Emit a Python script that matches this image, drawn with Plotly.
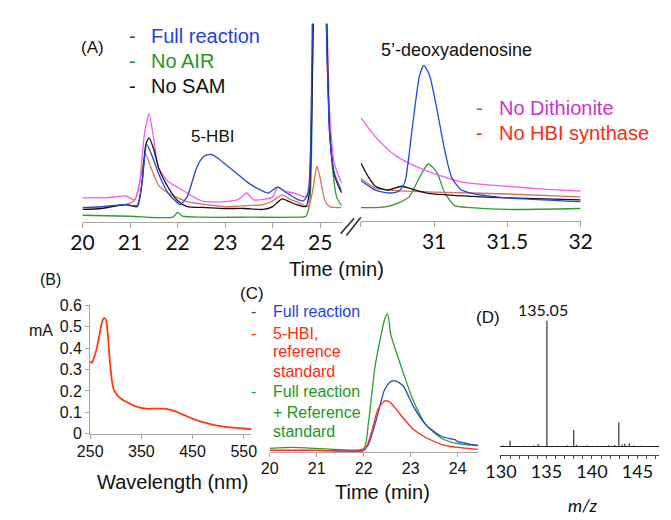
import plotly.graph_objects as go

W, H = 671, 520
def X(px): return px / W
def Y(py): return 1 - py / H

# ---------------- Panel A (left segment, 20-25.45 min) ----------------
a_full_t = [20, 20.4, 20.9, 21.15, 21.25, 21.35, 21.45, 21.6, 21.8, 21.95, 22.05, 22.2, 22.4, 22.55, 22.7, 22.85, 23.0, 23.25, 23.5, 23.75, 23.9, 24.1, 24.3, 24.5, 24.65, 24.75, 24.82, 24.9, 25.0, 25.1, 25.2, 25.3, 25.45]
a_full_y = [15, 16, 18, 17, 40, 80, 70, 50, 30, 22, 18, 26, 56, 68, 70, 66, 60, 50, 40, 33, 30, 36, 30, 24, 22, 30, 150, 400, 420, 260, 90, 50, 32]
a_noair_t = [20, 21.0, 21.9, 22.0, 22.1, 22.5, 23.5, 24.5, 24.7, 24.78, 24.85, 24.95, 25.05, 25.15, 25.25, 25.35, 25.45]
a_noair_y = [7, 6, 5, 10, 6, 5, 5, 5, 6, 20, 200, 420, 380, 160, 60, 25, 17]
a_nosam_t = [20, 20.4, 20.9, 21.15, 21.25, 21.33, 21.4, 21.5, 21.6, 21.8, 22.0, 22.2, 22.6, 23.0, 23.4, 23.8, 24.0, 24.2, 24.35, 24.5, 24.7, 24.77, 24.85, 24.95, 25.1, 25.2, 25.3, 25.45]
a_nosam_y = [13, 14, 18, 16, 40, 80, 87, 75, 56, 36, 22, 16, 15, 14, 14, 13, 16, 24, 21, 18, 16, 30, 200, 430, 280, 90, 48, 30]
a_nodith_t = [20, 20.5, 20.9, 21.1, 21.2, 21.3, 21.4, 21.5, 21.6, 21.8, 22.0, 22.5, 23.0, 23.3, 23.45, 23.6, 24.0, 24.1, 24.25, 24.45, 24.7, 24.77, 24.85, 24.95, 25.1, 25.2, 25.3, 25.45]
a_nodith_y = [25, 25, 27, 23, 40, 90, 112, 85, 56, 42, 36, 22, 21, 24, 30, 23, 26, 36, 32, 30, 26, 45, 220, 440, 300, 110, 60, 40]
a_nohbi_t = [20, 20.5, 20.9, 21.1, 21.2, 21.33, 21.45, 21.6, 21.8, 22.2, 22.6, 23.0, 23.5, 23.8, 24.0, 24.2, 24.35, 24.5, 24.75, 24.85, 24.93, 25.0, 25.1, 25.2, 25.45]
a_nohbi_y = [15, 16, 18, 23, 40, 70, 55, 38, 30, 21, 18, 16, 17, 18, 22, 28, 24, 21, 16, 35, 58, 45, 22, 16, 15]

# ---------------- Panel A (right segment, 30.5-32 min) ----------------
b_full_t = [30.5, 30.6, 30.7, 30.76, 30.8, 30.85, 30.9, 30.93, 30.97, 31.02, 31.07, 31.12, 31.18, 31.25, 31.5, 32.0]
b_full_y = [42, 32, 29, 31, 40, 95, 150, 161, 150, 115, 75, 45, 33, 29, 24, 20]
b_noair_t = [30.5, 30.6, 30.68, 30.76, 30.83, 30.9, 30.96, 31.02, 31.07, 31.14, 31.25, 31.5, 32.0]
b_noair_y = [14, 14, 15, 19, 25, 45, 59, 50, 30, 16, 14, 12, 13]
b_nosam_t = [30.5, 30.55, 30.6, 30.68, 30.78, 30.85, 30.95, 31.2, 31.5, 32.0]
b_nosam_y = [60, 46, 36, 32, 36, 33, 29, 26, 24, 22]
b_nodith_t = [30.5, 30.6, 30.7, 30.8, 30.9, 31.0, 31.2, 31.5, 31.75, 32.0]
b_nodith_y = [107, 87, 72, 62, 55, 49, 40, 36, 33, 31]
b_nohbi_t = [30.5, 30.6, 30.7, 30.8, 31.0, 31.5, 32.0]
b_nohbi_y = [44, 34, 32, 31, 30, 28, 25]

# ---------------- Panel B (UV-vis spectrum) ----------------
uv_wl = [250, 252, 255, 258, 263, 268, 272, 275, 278, 281, 283, 285, 287, 290, 293, 297, 303, 310, 318, 325, 335, 345, 355, 365, 375, 385, 395, 405, 415, 425, 435, 445, 455, 465, 475, 485, 495, 505, 515, 525, 535, 545, 555, 565]
uv_abs = [0.34, 0.33, 0.34, 0.36, 0.40, 0.46, 0.51, 0.535, 0.54, 0.53, 0.50, 0.45, 0.38, 0.30, 0.24, 0.20, 0.18, 0.165, 0.152, 0.145, 0.132, 0.124, 0.119, 0.117, 0.118, 0.118, 0.118, 0.113, 0.106, 0.096, 0.086, 0.076, 0.066, 0.058, 0.051, 0.045, 0.040, 0.036, 0.032, 0.030, 0.028, 0.026, 0.024, 0.022]
uv_xticks = [250, 350, 450, 550]
uv_yticks = [0, 0.1, 0.2, 0.3, 0.4, 0.5, 0.6]
uv_yticktext = ["0", "0.1", "0.2", "0.3", "0.4", "0.5", "0.6"]

# ---------------- Panel C (co-injection) ----------------
c_full_t = [20, 21, 22.0, 22.1, 22.27, 22.44, 22.55, 22.65, 22.75, 22.85, 23.05, 23.33, 23.67, 23.94, 24.0, 24.2, 24.43]
c_full_y = [2, 2, 2, 8, 34, 64, 72, 74, 72, 68, 48, 28, 16, 13, 11, 9, 7]
c_ref_t = [20, 21, 22.0, 22.08, 22.17, 22.3, 22.44, 22.5, 22.58, 22.78, 23.05, 23.33, 23.67, 24.0, 24.43]
c_ref_y = [2, 2, 2, 8, 21, 44, 53, 53, 51, 39, 24, 15, 8, 5, 3]
c_mix_t = [20, 20.5, 21, 22.0, 22.1, 22.24, 22.37, 22.45, 22.51, 22.58, 22.78, 23.05, 23.33, 23.67, 24.0, 24.43]
c_mix_y = [4, 5, 4, 4, 30, 88, 121, 138, 143, 121, 91, 54, 28, 14, 9, 7]
c_xticks = [20, 21, 22, 23, 24]

# ---------------- Panel D (mass spectrum) ----------------
ms_mz = [130.2, 131.0, 132.5, 133.6, 134.1, 135.05, 136.2, 137.3, 138.0, 138.3, 139.5, 140.6, 141.8, 142.5, 142.95, 143.3, 143.6, 144.1, 144.6, 145.5]
ms_int = [0.8, 4.5, 0.6, 0.7, 1.8, 100, 0.6, 0.8, 13, 1.2, 0.7, 0.6, 1.0, 1.2, 19, 1.5, 2.2, 2.5, 0.8, 0.6]
ms_ticks = list(range(130, 148))
ms_ticktext = [str(v) if v in (130, 135, 140, 145) else "" for v in ms_ticks]

BLUE = "#2347E0"; GREEN = "#2E9B2E"; BLACK = "#111111"; PINK = "#F25CF2"; SALMON = "#D9705C"
BLUE_T = "#1F3FE8"; GREEN_T = "#1E961E"; MAG_T = "#CC33CC"; RED_T = "#FF2A10"

fig = go.Figure()
def line(x, y, color, xa, ya, w=1.3, shape="spline"):
    fig.add_trace(go.Scatter(x=x, y=y, mode="lines", line=dict(color=color, width=w, shape=shape, smoothing=0.6),
                             xaxis=xa, yaxis=ya, showlegend=False, hoverinfo="skip"))

for (t, y, c) in [(a_noair_t, a_noair_y, GREEN), (a_nohbi_t, a_nohbi_y, SALMON), (a_nodith_t, a_nodith_y, PINK),
                  (a_nosam_t, a_nosam_y, BLACK), (a_full_t, a_full_y, BLUE)]:
    line(t, y, c, "x", "y")
for (t, y, c) in [(b_noair_t, b_noair_y, GREEN), (b_nohbi_t, b_nohbi_y, SALMON), (b_nodith_t, b_nodith_y, PINK),
                  (b_nosam_t, b_nosam_y, BLACK), (b_full_t, b_full_y, BLUE)]:
    line(t, y, c, "x2", "y2")
line(uv_wl, uv_abs, "#FF3A10", "x3", "y3", 1.8)
line(c_mix_t, c_mix_y, GREEN, "x4", "y4", 1.3)
line(c_full_t, c_full_y, BLUE, "x4", "y4", 1.3)
line(c_ref_t, c_ref_y, "#FF2A20", "x4", "y4", 1.3)

# stick spectrum
sx, sy = [], []
for m, h in zip(ms_mz, ms_int):
    sx += [m, m, None]; sy += [0, h, None]
fig.add_trace(go.Scatter(x=sx, y=sy, mode="lines", line=dict(color="#333333", width=1.2),
                         xaxis="x5", yaxis="y5", showlegend=False, hoverinfo="skip"))

AX = "#A6A6A6"
calib = dict(family="Lato, Liberation Sans, sans-serif", color="#111111")
arial = dict(family="Liberation Sans, Arial, sans-serif", color="#111111")

fig.update_layout(
    width=W, height=H, margin=dict(l=0, r=0, t=0, b=0),
    paper_bgcolor="white", plot_bgcolor="rgba(0,0,0,0)",
    xaxis=dict(domain=[X(62), X(332)], range=[20, 25.45], anchor="y", tickvals=[20, 21, 22, 23, 24, 25],
               showline=True, linecolor=AX, ticks="outside", ticklen=5, tickcolor=AX, showgrid=False,
               zeroline=False, tickfont=dict(size=21, **calib), ticklabelstandoff=-3),
    yaxis=dict(domain=[Y(213), Y(8)], range=[0, 205], visible=False),
    xaxis2=dict(domain=[X(352), X(581)], range=[30.5, 32], anchor="y2", tickvals=[30.5, 31, 31.5, 32],
                ticktext=["", "31", "31.5", "32"], showline=True, linecolor=AX, ticks="outside", ticklen=5,
                tickcolor=AX, showgrid=False, zeroline=False, tickfont=dict(size=21, **calib), ticklabelstandoff=-3),
    yaxis2=dict(domain=[Y(212), Y(8)], range=[0, 204], visible=False),
    xaxis3=dict(domain=[X(70), X(238)], range=[250, 565], anchor="y3", tickvals=uv_xticks,
                showline=True, linecolor=AX, ticks="outside", ticklen=4, tickcolor=AX, showgrid=False,
                zeroline=False, tickfont=dict(size=16, **arial), ticklabelstandoff=-1),
    yaxis3=dict(domain=[Y(432), Y(299)], range=[0, 0.6], anchor="x3", tickvals=uv_yticks, ticktext=uv_yticktext,
                showline=True, linecolor=AX, ticks="outside", ticklen=4, tickcolor=AX, showgrid=False,
                zeroline=False, tickfont=dict(size=16, **arial)),
    xaxis4=dict(domain=[X(257), X(474)], range=[20, 24.43], anchor="y4", tickvals=c_xticks,
                showline=True, linecolor=AX, ticks="outside", ticklen=4, tickcolor=AX, showgrid=False,
                zeroline=False, tickfont=dict(size=16, **arial), ticklabelstandoff=-2),
    yaxis4=dict(domain=[Y(451), Y(300)], range=[0, 151], visible=False),
    xaxis5=dict(domain=[X(497), X(663)], range=[129.9, 147.4], anchor="y5", showline=True, linecolor="#222222",
                showticklabels=False, ticks="", showgrid=False, zeroline=False),
    yaxis5=dict(domain=[Y(445), Y(300)], range=[0, 111.5], visible=False),
    xaxis6=dict(overlaying="x5", anchor="free", position=Y(454), range=[129.9, 147.4], showline=True,
                linecolor="#444444", ticks="outside", ticklen=3, tickcolor="#444444", tickvals=ms_ticks,
                ticktext=ms_ticktext, showgrid=False, zeroline=False, tickfont=dict(size=18, **calib),
                ticklabelstandoff=-3),
)
fig.add_trace(go.Scatter(x=[130], y=[None], xaxis="x6", yaxis="y5", showlegend=False, hoverinfo="skip"))

ann = []
def txt(px, py, s, size=16, color="#111111", font="Liberation Sans, Arial, sans-serif", xanchor="center", italic=False):
    ann.append(dict(x=X(px), y=Y(py), xref="paper", yref="paper", text=s, showarrow=False,
                    xanchor=xanchor, yanchor="middle",
                    font=dict(size=size, color=color, family=font, style="italic" if italic else "normal")))

txt(72, 33, "(A)", 17)
for py, s, c in [(21, "Full reaction", BLUE_T), (47, "No AIR", GREEN_T), (72, "No SAM", BLACK)]:
    txt(114, py, "-", 20, c)
    txt(131, py, s, 20, c, xanchor="left")
txt(197, 125, "5-HBI", 17)
txt(452, 35, "5’-deoxyadenosine", 18)
for py, s, c in [(95, "No Dithionite", MAG_T), (121, "No HBI synthase", RED_T)]:
    txt(476, py, "-", 20, c)
    txt(494, py, s, 20, c, xanchor="left")
txt(327, 262, "Time (min)", 20)

txt(29, 272, "(B)", 16)
txt(19, 325, "mA", 16)
txt(156, 482, "Wavelength (nm)", 20)

txt(239, 287, "(C)", 17)
c_leg = [(305, "-", "Full reaction", BLUE_T), (328, "-", "5-HBI,", RED_T), (347, "", "reference", RED_T),
         (367, "", "standard", RED_T), (388, "-", "Full reaction", GREEN_T), (410, "", "+ Reference", GREEN_T),
         (430, "", "standard", GREEN_T)]
for py, d, s, c in c_leg:
    if d:
        txt(240, py, d, 16, c)
    txt(258, py, s, 16, c, xanchor="left")
txt(375, 492, "Time (min)", 20)

txt(485, 312, "(D)", 17)
txt(542, 303, "135.05", 16, font="Lato, sans-serif")
txt(583, 506, "m/z", 18, font="Lato, sans-serif", italic=True)

fig.update_layout(annotations=ann)

# axis-break marks
for (x0, y0, x1, y1) in [(331, 225, 345, 209), (337, 227, 352, 208)]:
    fig.add_shape(type="line", xref="paper", yref="paper", x0=X(x0), y0=Y(y0), x1=X(x1), y1=Y(y1),
                  line=dict(color="#333333", width=1.6))

fig.write_html("out.html")
